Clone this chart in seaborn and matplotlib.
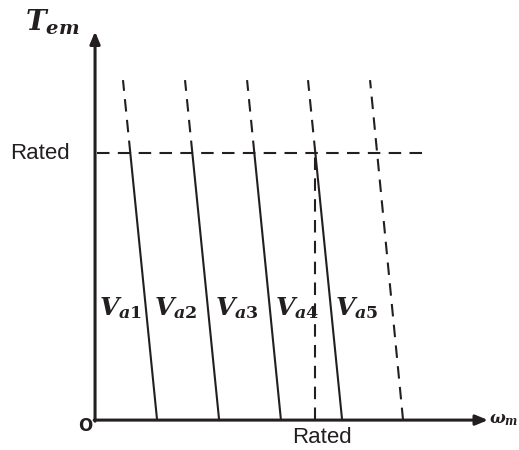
import numpy as np
import pandas as pd
import matplotlib
matplotlib.use("Agg")
import matplotlib.pyplot as plt
import seaborn as sns

# Torque-speed characteristics of a separately excited DC motor
# for five armature voltages (per-unit speed and torque).
curve_labels = [r"$V_{a1}$", r"$V_{a2}$", r"$V_{a3}$", r"$V_{a4}$", r"$V_{a5}$"]
speed_no_load = [0.282, 0.564, 0.845, 1.123, 1.400]   # speed at zero torque
speed_at_top = [0.127, 0.409, 0.691, 0.968, 1.250]    # speed at the top of the plot
torque_top = 1.273
rated_torque = 1.0
rated_speed = 1.0
beyond_rated = [False, False, False, False, True]     # drawn fully dashed

INK = "#231f20"

sns.set_theme(style="white")
plt.rcParams["font.family"] = ["Liberation Sans", "DejaVu Sans"]
plt.rcParams["mathtext.fontset"] = "custom"
plt.rcParams["mathtext.it"] = "DejaVu Serif:italic:bold"
plt.rcParams["mathtext.rm"] = "DejaVu Serif:bold"
plt.rcParams["mathtext.bf"] = "DejaVu Serif:bold"

# Build the line segments: loaded part (solid) and overload part (dashed)
rows = []
for i, (w0, wt, beyond) in enumerate(zip(speed_no_load, speed_at_top, beyond_rated)):
    torques = [0.0, torque_top]
    speeds = [w0, wt]
    if beyond:
        for w, t in zip(speeds, torques):
            rows.append(dict(trace=f"c{i}-d", segment="dashed", speed=w, torque=t))
    else:
        w_rated = np.interp(rated_torque, torques, speeds)
        for w, t in [(w0, 0.0), (w_rated, rated_torque)]:
            rows.append(dict(trace=f"c{i}-s", segment="solid", speed=w, torque=t))
        for w, t in [(w_rated, rated_torque), (wt, torque_top)]:
            rows.append(dict(trace=f"c{i}-d", segment="dashed", speed=w, torque=t))
curves = pd.DataFrame(rows)

fig = plt.figure(figsize=(5.19, 4.5), dpi=100)
ax = fig.add_axes([0, 0, 1, 1])
ax.set_xlim(-0.432, 1.927)
ax.set_ylim(-0.112, 1.573)
ax.axis("off")

solid = curves[curves.segment == "solid"]
dashed = curves[curves.segment == "dashed"]
sns.lineplot(data=solid, x="speed", y="torque", units="trace", estimator=None,
             sort=False, color=INK, lw=1.5, ax=ax, legend=False)
sns.lineplot(data=dashed, x="speed", y="torque", units="trace", estimator=None,
             sort=False, color=INK, lw=1.5, dashes=False, ax=ax, legend=False,
             linestyle=(0, (6, 4)))

# Rated torque and rated speed guides
ax.plot([0.01, 1.49], [rated_torque, rated_torque], color=INK, lw=1.5,
        linestyle=(0, (6, 4)))
ax.plot([rated_speed, rated_speed], [0, rated_torque], color=INK, lw=1.5,
        linestyle=(0, (6, 4)))

# Axes with arrow heads
arrow = dict(arrowstyle="-|>,head_length=0.6,head_width=0.25", color=INK,
             lw=2.2, shrinkA=0, shrinkB=0)
ax.annotate("", xy=(0, 1.455), xytext=(0, -0.004), arrowprops=arrow)
ax.annotate("", xy=(1.786, 0), xytext=(-0.004, 0), arrowprops=arrow)

# Curve labels placed between neighbouring characteristics
label_torque = 0.42
edges = [0.0] + [np.interp(label_torque, [0, torque_top], [a, b])
                 for a, b in zip(speed_no_load, speed_at_top)]
for k, lab in enumerate(curve_labels):
    xm = 0.5 * (edges[k] + edges[k + 1]) - 0.005 * k
    ax.text(xm, label_torque, lab, ha="center", va="center", fontsize=18,
            color=INK)

ax.text(-0.318, 1.46, r"$T_{em}$", ha="left", va="baseline", fontsize=20,
        color=INK)
ax.text(1.79, 0.0, r"$\omega_m$", ha="left", va="center", fontsize=12,
        color=INK)
ax.text(-0.25, rated_torque, "Rated", ha="center", va="center", fontsize=16,
        color=INK)
ax.text(1.03, -0.065, "Rated", ha="center", va="center", fontsize=16,
        color=INK)
ax.text(-0.045, -0.041, "O", ha="center", va="baseline", fontsize=12,
        family="DejaVu Sans", fontweight="bold", color=INK)

fig.savefig("out.png", dpi=100, facecolor="white")
